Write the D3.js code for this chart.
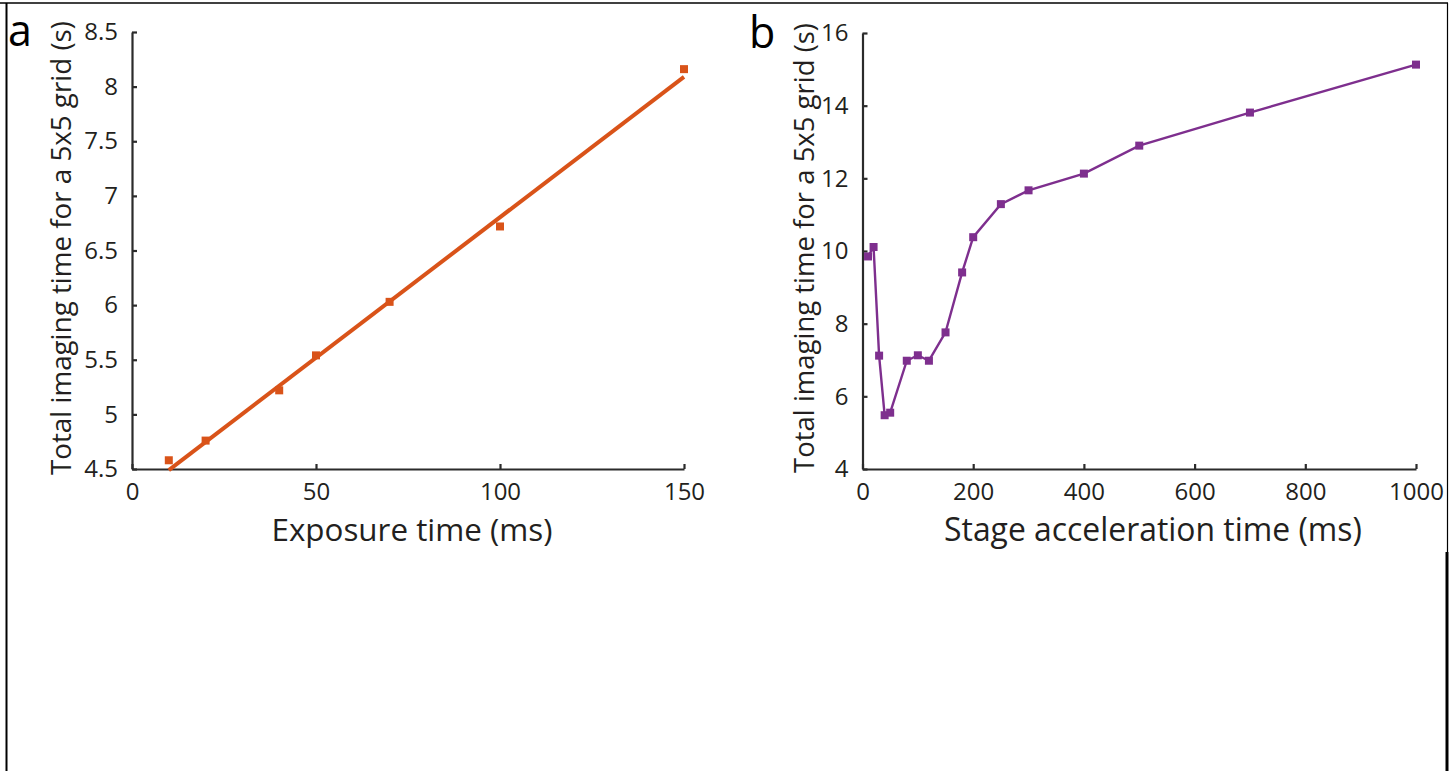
<!DOCTYPE html>
<html lang="en">
  <head>
    <meta charset="UTF-8" />
    <title>Imaging time</title>
    <script src="https://d3js.org/d3.v7.min.js"></script>
    <style>
      body { margin: 0; background: #fff; }
      svg { display: block; font-family: "Open Sans", sans-serif; }
      .axis path, .axis line { stroke: #2b2b2b; stroke-width: 2.2; }
      .axis text { fill: #231f20; font-size: 24px; font-family: "Open Sans", sans-serif; }
      .title { fill: #231f20; }
      .letter { fill: #000; font-size: 43px; }
    </style>
  </head>
  <body>
    <script>
      // panel a: exposure time vs total imaging time
      const exposureMs = [10, 20, 40, 50, 70, 100, 150];
      const exposureTime = [4.58, 4.76, 5.22, 5.54, 6.03, 6.72, 8.16];
      // linear fit endpoints
      const fitMs = [10, 150];
      const fitTime = [4.49, 8.09];

      // panel b: stage acceleration time vs total imaging time
      const accelMs = [10, 20, 30, 40, 50, 80, 100, 120, 150, 180, 200, 250, 300, 400, 500, 700, 1000];
      const accelTime = [9.85, 10.11, 7.12, 5.48, 5.55, 6.98, 7.13, 6.98, 7.76, 9.41, 10.38, 11.29, 11.67, 12.13, 12.9, 13.81, 15.13];

      const ticksAX = [0, 50, 100, 150];
      const ticksAY = [4.5, 5, 5.5, 6, 6.5, 7, 7.5, 8, 8.5];
      const ticksBX = [0, 200, 400, 600, 800, 1000];
      const ticksBY = [4, 6, 8, 10, 12, 14, 16];

      const yLabel = "Total imaging time for a 5x5 grid (s)";

      const W = 1453, H = 771;
      const svg = d3.select("body").append("svg").attr("width", W).attr("height", H);

      // frame around the figure
      const frame = svg.append("g").attr("stroke", "#000").attr("fill", "none");
      frame.append("line").attr("x1", 0).attr("x2", 1448).attr("y1", 3).attr("y2", 3).attr("stroke-width", 1.5);
      frame.append("line").attr("x1", 6.5).attr("x2", 6.5).attr("y1", 3).attr("y2", H).attr("stroke-width", 2);
      frame.append("line").attr("x1", 1447.5).attr("x2", 1447.5).attr("y1", 3).attr("y2", 552).attr("stroke-width", 1.2);
      frame.append("line").attr("x1", 1447).attr("x2", 1447).attr("y1", 552).attr("y2", H).attr("stroke-width", 3);

      const fmt = d3.format("~g");

      // size a text so that its natural length hits the target width
      function fitText(sel, target) {
        sel.attr("font-size", 30);
        const len = sel.node().getComputedTextLength();
        sel.attr("font-size", (30 * target / len).toFixed(2));
      }

      function panel(opts) {
        const x = d3.scaleLinear().domain(opts.xDomain).range(opts.xRange);
        const y = d3.scaleLinear().domain(opts.yDomain).range(opts.yRange);

        svg.append("g")
          .attr("class", "axis")
          .attr("transform", `translate(0,${opts.yRange[0]})`)
          .call(d3.axisBottom(x).tickValues(opts.xTicks).tickFormat(fmt)
            .tickSizeInner(-5).tickSizeOuter(0).tickPadding(14));

        svg.append("g")
          .attr("class", "axis")
          .attr("transform", `translate(${opts.xRange[0]},0)`)
          .call(d3.axisLeft(y).tickValues(opts.yTicks).tickFormat(fmt)
            .tickSizeInner(-5).tickSizeOuter(0).tickPadding(14));

        svg.selectAll(".axis text").attr("font-size", null);

        // x title
        const xt = svg.append("text")
          .attr("class", "title")
          .attr("x", opts.xTitlePos[0])
          .attr("y", opts.xTitlePos[1])
          .attr("text-anchor", "middle")
          .text(opts.xTitle);
        fitText(xt, opts.xTitleLen);

        // y title
        const yt = svg.append("text")
          .attr("class", "title")
          .attr("transform", `translate(${opts.yTitlePos[0]},${opts.yTitlePos[1]}) rotate(-90)`)
          .attr("text-anchor", "middle")
          .text(yLabel);
        fitText(yt, opts.yTitleLen);

        svg.append("text")
          .attr("class", "letter")
          .attr("x", opts.letterPos[0])
          .attr("y", opts.letterPos[1])
          .text(opts.letter);

        return { x, y };
      }

      // ---- panel a ----
      const a = panel({
        xDomain: [0, 150], xRange: [132, 684],
        yDomain: [4.5, 8.5], yRange: [469, 32],
        xTicks: ticksAX, yTicks: ticksAY,
        xTitle: "Exposure time (ms)", xTitlePos: [412, 541], xTitleLen: 281,
        yTitlePos: [71, 248], yTitleLen: 454,
        letter: "a", letterPos: [8, 46]
      });
      const orange = "#d95319";
      const fitData = fitMs.map((d, i) => [d, fitTime[i]]);
      svg.append("path")
        .datum(fitData)
        .attr("fill", "none")
        .attr("stroke", orange)
        .attr("stroke-width", 4)
        .attr("d", d3.line().x(d => a.x(d[0])).y(d => a.y(d[1])));
      svg.append("g")
        .selectAll("rect")
        .data(exposureMs.map((d, i) => [d, exposureTime[i]]))
        .join("rect")
        .attr("x", d => a.x(d[0]) - 4)
        .attr("y", d => a.y(d[1]) - 4)
        .attr("width", 8)
        .attr("height", 8)
        .attr("fill", orange);

      // ---- panel b ----
      const b = panel({
        xDomain: [0, 1000], xRange: [862.5, 1416],
        yDomain: [4, 16], yRange: [469, 33],
        xTicks: ticksBX, yTicks: ticksBY,
        xTitle: "Stage acceleration time (ms)", xTitlePos: [1153, 541], xTitleLen: 418,
        yTitlePos: [814, 248], yTitleLen: 450,
        letter: "b", letterPos: [749, 48]
      });
      const purple = "#7e2f8e";
      const accData = accelMs.map((d, i) => [d, accelTime[i]]);
      svg.append("path")
        .datum(accData)
        .attr("fill", "none")
        .attr("stroke", purple)
        .attr("stroke-width", 2.4)
        .attr("d", d3.line().x(d => b.x(d[0])).y(d => b.y(d[1])));
      svg.append("g")
        .selectAll("rect")
        .data(accData)
        .join("rect")
        .attr("x", d => b.x(d[0]) - 4)
        .attr("y", d => b.y(d[1]) - 4)
        .attr("width", 8)
        .attr("height", 8)
        .attr("fill", purple);
    </script>
  </body>
</html>
